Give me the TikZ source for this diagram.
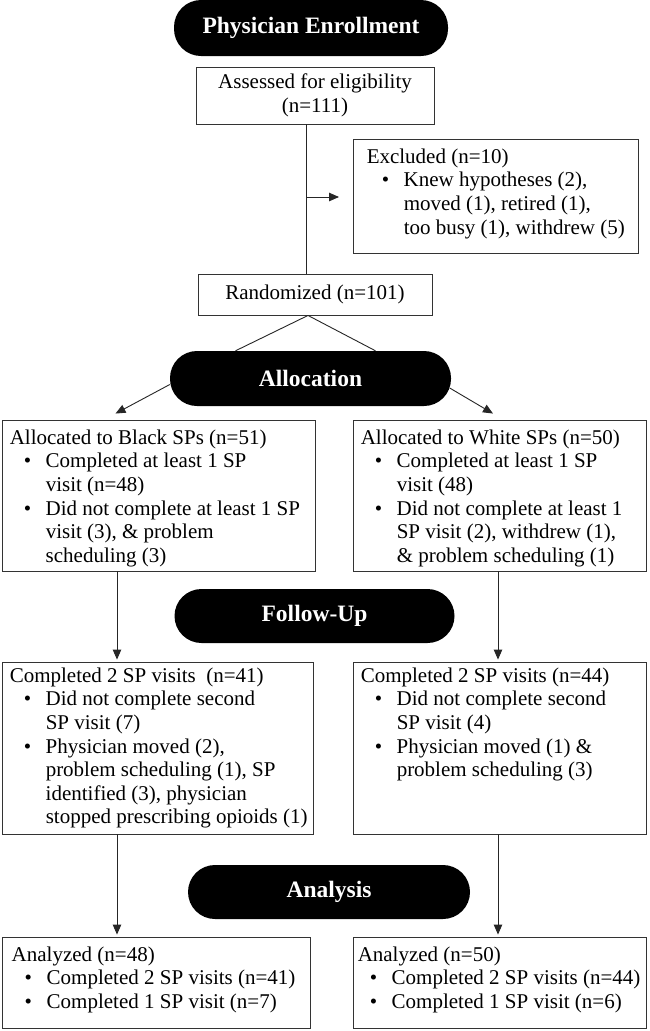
\documentclass[tikz,border=0pt]{standalone}
\usepackage{fontspec}
\setmainfont{Liberation Serif}
\usetikzlibrary{arrows.meta,positioning}

\tikzset{
  phase/.style={fill=black, text=white, rounded corners=27pt, minimum width=281pt, minimum height=55pt, font=\fontsize{23.5}{26}\selectfont\bfseries},
  box/.style={draw=black!80, line width=0.9pt, inner sep=0pt, font=\fontsize{21}{23.6}\selectfont},
  txt/.style={inner sep=0pt, align=left, anchor=north west, font=\fontsize{21}{23.6}\selectfont},
  ln/.style={draw=black!85, line width=0.9pt},
  arr/.style={ln, -{Triangle[length=10pt,width=8.5pt]}},
}
\newcommand{\bl}[1][14pt]{\hspace*{#1}\makebox[22pt][l]{\textbullet}}
\newcommand{\cl}[1][36pt]{\hspace*{#1}}

\begin{document}
\begin{tikzpicture}[x=1pt,y=-1pt]
	\fill[white] (0,0) rectangle (649,1031);
	\useasboundingbox (0,0) rectangle (649,1031);

	% enrollment
	\node[phase, minimum width=274pt, minimum height=56pt] (enrol) at (311,28) {Physician Enrollment};
	\node[box, minimum width=238pt, minimum height=57pt, align=center] (assess) at (315,95.5) {Assessed for eligibility\\(n=111)};
	\node[box, minimum width=285pt, minimum height=114pt] (excl) at (495.5,196) {};
	\node[txt] (excltxt) at ([shift={(14,10)}]excl.north west) {Excluded (n=10)\\
		\bl[15pt]Knew hypotheses (2),\\
		\cl[37pt]moved (1), retired (1),\\
		\cl[37pt]too busy (1), withdrew (5)};
	\node[box, minimum width=234pt, minimum height=41pt] (rand) at (315,294.5) {Randomized (n=101)};

	% allocation
	\node[phase] (alloc) at (310.5,378.5) {Allocation};
	\node[box, minimum width=313pt, minimum height=151pt] (black) at (158.5,495.5) {};
	\node[txt] (blacktxt) at ([shift={(8,10)}]black.north west) {Allocated to Black SPs (n=51)\\
		\bl Completed at least 1 SP\\
		\cl visit (n=48)\\
		\bl Did not complete at least 1 SP\\
		\cl visit (3), \& problem\\
		\cl scheduling (3)};
	\node[box, minimum width=293pt, minimum height=151pt] (white) at (499.5,495.5) {};
	\node[txt] (whitetxt) at ([shift={(8,10)}]white.north west) {Allocated to White SPs (n=50)\\
		\bl Completed at least 1 SP\\
		\cl visit (48)\\
		\bl Did not complete at least 1\\
		\cl SP visit (2), withdrew (1),\\
		\cl \& problem scheduling (1)};

	% follow-up
	\node[phase, minimum width=280pt, minimum height=54pt] (follow) at (314.5,616) {Follow-Up};
	\node[box, minimum width=311pt, minimum height=172pt] (compB) at (157.5,748) {};
	\node[txt] (compBtxt) at ([shift={(8,6)}]compB.north west) {Completed 2 SP visits\ \ (n=41)\\
		\bl Did not complete second\\
		\cl SP visit (7)\\
		\bl Physician moved (2),\\
		\cl problem scheduling (1), SP\\
		\cl identified (3), physician\\
		\cl stopped prescribing opioids (1)};
	\node[box, minimum width=293pt, minimum height=172pt] (compW) at (499.5,748) {};
	\node[txt] (compWtxt) at ([shift={(8,6)}]compW.north west) {Completed 2 SP visits (n=44)\\
		\bl Did not complete second\\
		\cl SP visit (4)\\
		\bl Physician moved (1) \&\\
		\cl problem scheduling (3)};

	% analysis
	\node[phase, minimum width=282pt, minimum height=54pt] (anal) at (329,892) {Analysis};
	\node[box, minimum width=308pt, minimum height=91pt] (analB) at (156,982.5) {};
	\node[txt] (analBtxt) at ([shift={(10,10)}]analB.north west) {Analyzed (n=48)\\
		\bl[13pt]Completed 2 SP visits (n=41)\\
		\bl[13pt]Completed 1 SP visit (n=7)};
	\node[box, minimum width=293pt, minimum height=91pt] (analW) at (499.5,982.5) {};
	\node[txt] (analWtxt) at ([shift={(5,10)}]analW.north west) {Analyzed (n=50)\\
		\bl[12pt]Completed 2 SP visits (n=44)\\
		\bl[12pt]Completed 1 SP visit (n=6)};

	% connectors
	\coordinate (spine) at (306,0);
	\coordinate (colB) at (117,0);
	\coordinate (colW) at (498,0);
	\coordinate (excltip) at (339,197);
	\draw[ln] (assess.south -| spine) -- (rand.north -| spine);
	\draw[arr] (excltip -| spine) -- (excltip);
	\draw[ln] ([shift={(-7,0)}]rand.south) -- ([shift={(-75,0)}]alloc.north);
	\draw[ln] ([shift={(-7,0)}]rand.south) -- ([shift={(65,0)}]alloc.north);
	\draw[arr] ([shift={(0,6)}]alloc.west) -- ([shift={(-43,-6)}]black.north);
	\draw[arr] ([shift={(-1.5,9.5)}]alloc.east) -- ([shift={(-6.5,-6)}]white.north);
	\draw[arr] (black.south -| colB) -- ([shift={(0,-2)}]compB.north -| colB);
	\draw[arr] (white.south -| colW) -- ([shift={(0,-2)}]compW.north -| colW);
	\draw[arr] (compB.south -| colB) -- ([shift={(0,-2)}]analB.north -| colB);
	\draw[arr] (compW.south -| colW) -- ([shift={(0,-2)}]analW.north -| colW);
\end{tikzpicture}
\end{document}
